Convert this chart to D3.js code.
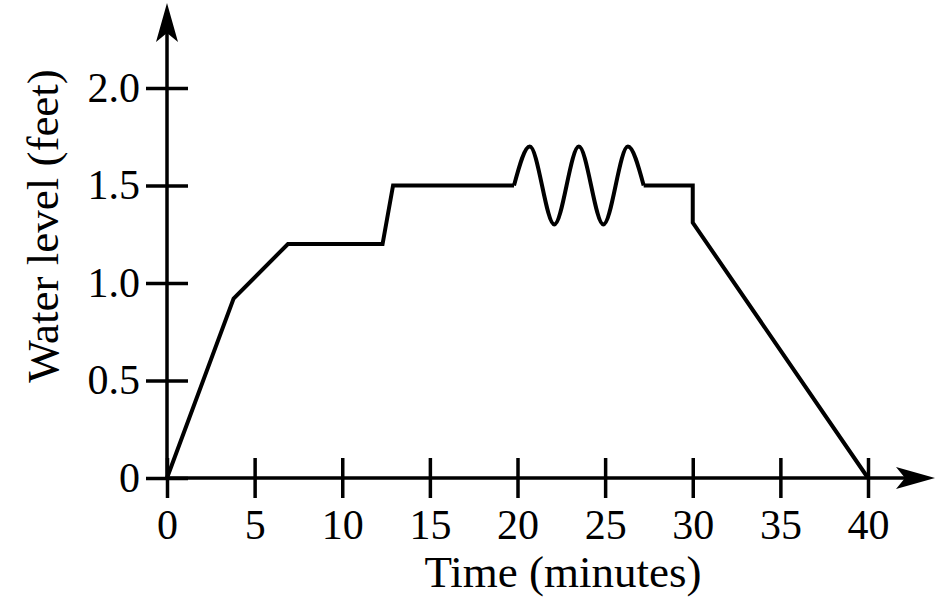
<!DOCTYPE html>
<html><head><meta charset="utf-8">
<script src="https://cdn.jsdelivr.net/npm/d3@7"></script>
<style>body{margin:0;background:#fff}svg{display:block}</style>
</head><body>
<svg id="c" width="943" height="614"></svg>
<script>
const xTicks = [0,5,10,15,20,25,30,35,40];
const yTicks = [0,0.5,1.0,1.5,2.0];
const yTickLabels = ["0","0.5","1.0","1.5","2.0"];
const preTime = [0,3.8,6.9,12.3,12.9,19.8];
const preLevel = [0,0.92,1.2,1.2,1.5,1.5];
const waveTime = [19.8,20.7,22.1,23.5,24.9,26.3,27.2];
const waveLevel = [1.5,1.7,1.3,1.7,1.3,1.7,1.5];
const postTime = [27.2,30,30,40];
const postLevel = [1.5,1.5,1.31,0];
const xTitle = "Time (minutes)";
const yTitle = "Water level (feet)";

const svg = d3.select("#c");
const x = d3.scaleLinear().domain([0,40]).range([167,868]);
const y = d3.scaleLinear().domain([0,2]).range([478,88]);
const font = "'Liberation Serif','Times New Roman',serif";

// axes
const gx = svg.append("g").attr("transform",`translate(0,${y(0)})`)
  .call(d3.axisBottom(x).tickValues(xTicks).tickSize(20).tickFormat(d3.format("d")));
gx.select(".domain").remove();
gx.selectAll(".tick line").attr("y1",-20).attr("y2",20).attr("stroke","#000").attr("stroke-width",3.5);
gx.selectAll(".tick text").attr("y",61).attr("dy",0).attr("font-family",font).attr("font-size",42).attr("fill","#000");

const gy = svg.append("g").attr("transform",`translate(${x(0)},0)`)
  .call(d3.axisLeft(y).tickValues(yTicks).tickSize(21).tickFormat((d,i)=>yTickLabels[i]));
gy.select(".domain").remove();
gy.selectAll(".tick line").attr("x1",-21).attr("x2",21).attr("stroke","#000").attr("stroke-width",3.5);
gy.selectAll(".tick text").attr("x",-27).attr("dy",0).attr("y",13).attr("font-family",font).attr("font-size",42).attr("fill","#000");

// axis lines
svg.append("line").attr("x1",x(0)).attr("x2",905).attr("y1",y(0)).attr("y2",y(0)).attr("stroke","#000").attr("stroke-width",3.5);
svg.append("line").attr("x1",x(0)).attr("x2",x(0)).attr("y1",y(0)).attr("y2",32).attr("stroke","#000").attr("stroke-width",3.5);
// arrowheads
const ax = x(0), ay = y(0);
svg.append("path").attr("d",`M${ax},3 L${ax+11},42 L${ax},33 L${ax-11},42 Z`).attr("fill","#000");
svg.append("path").attr("d",`M935,${ay} L896,${ay-11} L905,${ay} L896,${ay+11} Z`).attr("fill","#000");

// data line
const lin = d3.line().x(d=>x(d[0])).y(d=>y(d[1]));
const curv = d3.line().x(d=>x(d[0])).y(d=>y(d[1])).curve(d3.curveMonotoneX);
const style = p=>p.attr("fill","none").attr("stroke","#000").attr("stroke-width",4).attr("stroke-linejoin","miter");
svg.append("path").attr("d",lin(preTime.map((t,i)=>[t,preLevel[i]]))).call(style);
svg.append("path").attr("d",curv(waveTime.map((t,i)=>[t,waveLevel[i]]))).call(style);
svg.append("path").attr("d",lin(postTime.map((t,i)=>[t,postLevel[i]]))).call(style);

// titles
svg.append("text").attr("x",563).attr("y",587).attr("text-anchor","middle")
  .attr("font-family",font).attr("font-size",45).attr("fill","#000").text(xTitle);
svg.append("text").attr("transform","translate(58,226) rotate(-90)").attr("text-anchor","middle")
  .attr("font-family",font).attr("font-size",45).attr("fill","#000").text(yTitle);
</script>
</body></html>
